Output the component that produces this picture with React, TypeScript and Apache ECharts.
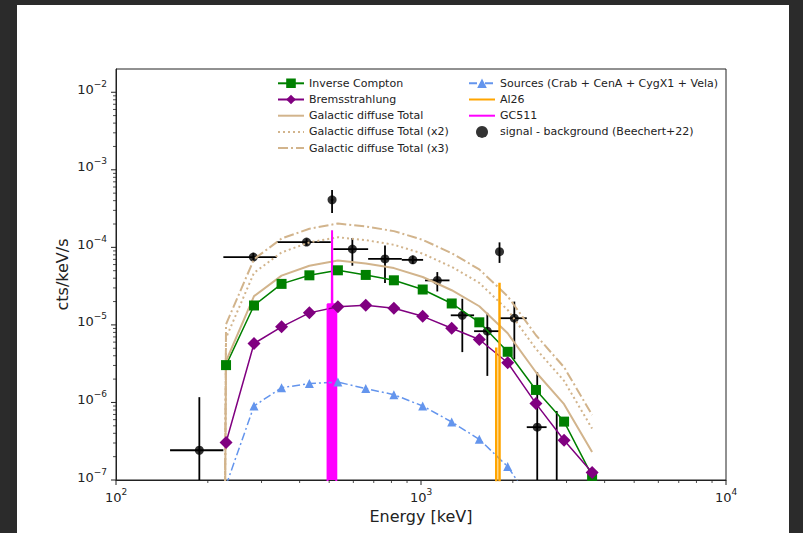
import React, { useEffect, useRef } from 'react';
import * as echarts from 'echarts';

// ---------- data ----------
const modelEnergies = [229.5, 283.5, 349, 430.6, 534, 659, 815, 1013, 1261, 1553, 1924, 2382, 2945, 3639];
const inverseCompton = [3.03e-6, 1.78e-5, 3.38e-5, 4.36e-5, 5.06e-5, 4.41e-5, 3.76e-5, 2.86e-5, 1.89e-5, 1.08e-5, 4.5e-6, 1.45e-6, 5.66e-7, 1.13e-7];
const bremsstrahlung = [3.04e-7, 5.76e-6, 9.45e-6, 1.43e-5, 1.71e-5, 1.79e-5, 1.64e-5, 1.29e-5, 9.07e-6, 6.49e-6, 3.25e-6, 9.66e-7, 3.25e-7, 1.25e-7];
const sources = [8.5e-8, 9.0e-7, 1.55e-6, 1.75e-6, 1.83e-6, 1.51e-6, 1.26e-6, 9.0e-7, 5.6e-7, 3.35e-7, 1.49e-7, 4.3e-8, 1.2e-8, 2.5e-9];

// diffuse model grid starts one bin lower where the flux is zero (log-clipped)
const diffuseEnergies = [185.7, 229.5, 283.5, 349, 430.6, 534, 659, 815, 1013, 1261, 1553, 1924, 2382, 2945, 3639];
const diffuseTotal = [1e-60, 3.4e-6, 2.35e-5, 4.32e-5, 5.8e-5, 6.75e-5, 6.2e-5, 5.4e-5, 4.15e-5, 2.8e-5, 1.74e-5, 7.8e-6, 2.45e-6, 9.5e-7, 2.3e-7];
const diffuseTotalX2 = [1e-60, 6.8e-6, 4.7e-5, 8.6e-5, 1.16e-4, 1.35e-4, 1.24e-4, 1.08e-4, 8.3e-5, 5.6e-5, 3.48e-5, 1.56e-5, 4.9e-6, 1.9e-6, 4.6e-7];
const diffuseTotalX3 = [1e-60, 1.02e-5, 7.05e-5, 1.3e-4, 1.74e-4, 2.03e-4, 1.86e-4, 1.62e-4, 1.25e-4, 8.4e-5, 5.2e-5, 2.34e-5, 7.35e-6, 2.85e-6, 6.9e-7];

const al26Energies = [1763, 1765, 1767, 1806, 1809, 1812];
const al26Values = [1e-60, 5.1e-6, 1e-60, 1e-60, 3.5e-5, 1e-60];

const gc511Energies = [493, 494, 510, 511, 512, 527.5, 528.5];
const gc511Values = [1e-60, 1.85e-5, 1.85e-5, 1.66e-4, 1.85e-5, 1.85e-5, 1e-60];

const signalEnergy = [187.6, 282, 421.5, 511, 595.6, 762, 940, 1131, 1366, 1650, 1809, 2023, 2405, 2786];
const signalValue = [2.42e-7, 7.5e-5, 1.17e-4, 4.1e-4, 9.5e-5, 7.1e-5, 6.9e-5, 3.75e-5, 1.33e-5, 8.3e-6, 8.8e-5, 1.22e-5, 4.8e-7, 5e-8];
const signalELow = [150.4, 224.9, 336.6, 506, 515.8, 671, 865, 1031, 1252, 1493, 1801, 1807, 2222, 2581];
const signalEHigh = [224.9, 336.6, 506, 516, 671, 865, 1016, 1240, 1493, 1807, 1817, 2222, 2581, 3010];
const signalLow = [1e-9, 6.6e-5, 1.05e-4, 2.77e-4, 5.8e-5, 3.46e-5, 6.1e-5, 2.7e-5, 4.46e-6, 2.2e-6, 6.3e-5, 3.6e-6, 1e-9, 1e-9];
const signalHigh = [1.17e-6, 8.5e-5, 1.3e-4, 5.5e-4, 1.32e-4, 1.06e-4, 7.8e-5, 4.8e-5, 2.17e-5, 1.43e-5, 1.16e-4, 2.0e-5, 2.46e-6, 7.75e-7];

const xMin = 100, xMax = 10000;
const yMin = 1e-7, yMax = 0.019953;

const FONT = 'DejaVu Sans';
const INK = '#222';

function logTicks(lo: number, hi: number) {
  const out: { v: number; major: boolean }[] = [];
  for (let e = Math.floor(Math.log10(lo)); e <= Math.ceil(Math.log10(hi)); e++) {
    for (let m = 1; m <= 9; m++) {
      const v = m * Math.pow(10, e);
      if (v >= lo * 0.9999 && v <= hi * 1.0001) out.push({ v, major: m === 1 });
    }
  }
  return out;
}

const fmtLog = (v: number) => {
  const e = Math.log10(v);
  const r = Math.round(e);
  if (Math.abs(e - r) > 1e-6) return '';
  return `{b|10}{s|${r < 0 ? '\u2212' + -r : r}}`;
};

const richLabel = {
  b: { fontSize: 13, fontFamily: FONT, color: INK, lineHeight: 20 },
  s: { fontSize: 9, fontFamily: FONT, color: INK, lineHeight: 8, verticalAlign: 'top' as const },
};

const zip = (xs: number[], ys: number[]) => xs.map((x, i) => [x, ys[i]]);

// legend entry whose handle is a bare line (no marker)
const lineOnly = (name: string) => ({ name, itemStyle: { opacity: 0, color: 'rgba(0,0,0,0)', borderWidth: 0 } });

export default function App() {
  const ref = useRef<HTMLDivElement>(null);
  useEffect(() => {
    if (!ref.current) return;
    const chart = echarts.init(ref.current, null, { renderer: 'svg' });

    const tickData: number[][] = [];
    logTicks(xMin, xMax).forEach((t) => tickData.push([t.v, yMin, 0, t.major ? 1 : 0]));
    logTicks(yMin, yMax).forEach((t) => tickData.push([xMin, t.v, 1, t.major ? 1 : 0]));

    const errData = signalEnergy.map((e, i) => [e, signalValue[i], signalELow[i], signalEHigh[i], signalLow[i], signalHigh[i]]);

    const legendCommon = {
      orient: 'vertical' as const,
      itemWidth: 26,
      itemHeight: 12,
      itemGap: 3.2,
      padding: 0,
      selectedMode: false,
      textStyle: { fontFamily: FONT, fontSize: 11, color: INK, lineHeight: 13 },
    };

    chart.setOption({
      animation: false,
      backgroundColor: 'transparent',
      grid: {
        left: 116, top: 69, right: 77, bottom: 53,
        show: true, borderColor: INK, borderWidth: 1, backgroundColor: 'transparent',
        containLabel: false, outerBoundsMode: 'none',
      },
      legend: [
        {
          ...legendCommon, left: 277, top: 76.8,
          data: [
            'Inverse Compton',
            'Bremsstrahlung',
            lineOnly('Galactic diffuse Total'),
            lineOnly('Galactic diffuse Total (x2)'),
            lineOnly('Galactic diffuse Total (x3)'),
          ],
        },
        {
          ...legendCommon, left: 468, top: 76.8,
          data: [
            'Sources (Crab + CenA + CygX1 + Vela)',
            lineOnly('Al26'),
            lineOnly('GC511'),
            { name: 'signal - background (Beechert+22)', icon: 'circle', itemStyle: { color: '#000' } },
          ],
        },
      ],
      xAxis: {
        type: 'log', logBase: 10, min: xMin, max: xMax,
        axisLine: { show: true, lineStyle: { color: INK, width: 1 } },
        axisTick: { show: false },
        splitLine: { show: false },
        axisLabel: { formatter: fmtLog, rich: richLabel, margin: 7 },
      },
      yAxis: {
        type: 'log', logBase: 10, min: yMin, max: yMax,
        axisLine: { show: true, lineStyle: { color: INK, width: 1 } },
        axisTick: { show: false },
        splitLine: { show: false },
        axisLabel: { formatter: fmtLog, rich: richLabel, margin: 9, padding: [0, 0, 6, 0] },
      },
      graphic: [
        {
          type: 'text', x: 421, y: 516,
          style: { text: 'Energy [keV]', fontFamily: FONT, fontSize: 16, fill: INK, textAlign: 'center', textVerticalAlign: 'middle' },
        },
        {
          type: 'text', x: 62, y: 274.5, rotation: Math.PI / 2,
          style: { text: 'cts/keV/s', fontFamily: FONT, fontSize: 16, fill: INK, textAlign: 'center', textVerticalAlign: 'middle' },
        },
      ],
      series: [
        {
          name: 'Inverse Compton', type: 'line', data: zip(modelEnergies, inverseCompton),
          symbol: 'rect', symbolSize: 10, color: '#008000',
          lineStyle: { color: '#008000', width: 1.5 }, itemStyle: { color: '#008000' }, clip: true,
        },
        {
          name: 'Bremsstrahlung', type: 'line', data: zip(modelEnergies, bremsstrahlung),
          symbol: 'diamond', symbolSize: 13, color: '#800080',
          lineStyle: { color: '#800080', width: 1.5 }, itemStyle: { color: '#800080' }, clip: true,
        },
        {
          name: 'Galactic diffuse Total', type: 'line', data: zip(diffuseEnergies, diffuseTotal),
          showSymbol: false, symbol: 'none', color: '#D2B48C',
          lineStyle: { color: '#D2B48C', width: 2 }, clip: true,
        },
        {
          name: 'Galactic diffuse Total (x2)', type: 'line', data: zip(diffuseEnergies, diffuseTotalX2),
          showSymbol: false, symbol: 'none', color: '#D2B48C',
          lineStyle: { color: '#D2B48C', width: 2, type: [2, 3] }, clip: true,
        },
        {
          name: 'Galactic diffuse Total (x3)', type: 'line', data: zip(diffuseEnergies, diffuseTotalX3),
          showSymbol: false, symbol: 'none', color: '#D2B48C',
          lineStyle: { color: '#D2B48C', width: 2, type: [10, 3, 2, 3] }, clip: true,
        },
        {
          name: 'Sources (Crab + CenA + CygX1 + Vela)', type: 'line', data: zip(modelEnergies, sources),
          symbol: 'triangle', symbolSize: 9, color: '#6495ED',
          lineStyle: { color: '#6495ED', width: 1.5, type: [8, 3, 2, 3] }, itemStyle: { color: '#6495ED' }, clip: true,
        },
        {
          name: 'Al26', type: 'line', data: zip(al26Energies, al26Values),
          showSymbol: false, symbol: 'none', color: '#FFA500',
          lineStyle: { color: '#FFA500', width: 2.5 }, clip: true,
        },
        {
          name: 'GC511', type: 'line', data: zip(gc511Energies, gc511Values),
          showSymbol: false, symbol: 'none', color: '#FF00FF',
          lineStyle: { color: '#FF00FF', width: 2 },
          areaStyle: { color: '#FF00FF', opacity: 1, origin: 'start' }, clip: true,
        },
        {
          name: 'errorbars', type: 'custom', coordinateSystem: 'cartesian2d', clip: true, silent: true,
          encode: { x: 0, y: 1 },
          data: errData,
          renderItem: (params: any, api: any) => {
            const x = api.value(0), y = api.value(1);
            const pL = api.coord([api.value(2), y]);
            const pR = api.coord([api.value(3), y]);
            const pB = api.coord([x, api.value(4)]);
            const pT = api.coord([x, api.value(5)]);
            return {
              type: 'group',
              children: [
                { type: 'line', shape: { x1: pL[0], y1: pL[1], x2: pR[0], y2: pR[1] }, style: { stroke: '#000', lineWidth: 1.8 } },
                { type: 'line', shape: { x1: pT[0], y1: pT[1], x2: pB[0], y2: pB[1] }, style: { stroke: '#000', lineWidth: 1.8 } },
              ],
            };
          },
        },
        {
          name: 'signal - background (Beechert+22)', type: 'scatter', data: zip(signalEnergy, signalValue),
          symbol: 'circle', symbolSize: 9, itemStyle: { color: '#000' }, color: '#000', clip: true,
        },
        {
          name: 'ticks', type: 'custom', coordinateSystem: 'cartesian2d', clip: false, silent: true,
          encode: { x: 0, y: 1 },
          data: tickData,
          renderItem: (params: any, api: any) => {
            const p = api.coord([api.value(0), api.value(1)]);
            const isY = api.value(2) === 1;
            const len = api.value(3) === 1 ? 5 : 3;
            const shape = isY
              ? { x1: p[0] - len, y1: p[1], x2: p[0], y2: p[1] }
              : { x1: p[0], y1: p[1], x2: p[0], y2: p[1] + len };
            return { type: 'line', shape, style: { stroke: INK, lineWidth: api.value(3) === 1 ? 1 : 0.8 } };
          },
        },
      ],
    });
    return () => chart.dispose();
  }, []);

  return (
    <div style={{ position: 'absolute', left: 0, top: 0, width: 803, height: 533, background: '#2b2b2b', overflow: 'hidden' }}>
      <div style={{ position: 'absolute', left: 17, top: 5, width: 772, height: 528, background: '#ffffff' }} />
      <div ref={ref} style={{ position: 'absolute', left: 0, top: 0, width: 803, height: 533 }} />
    </div>
  );
}
